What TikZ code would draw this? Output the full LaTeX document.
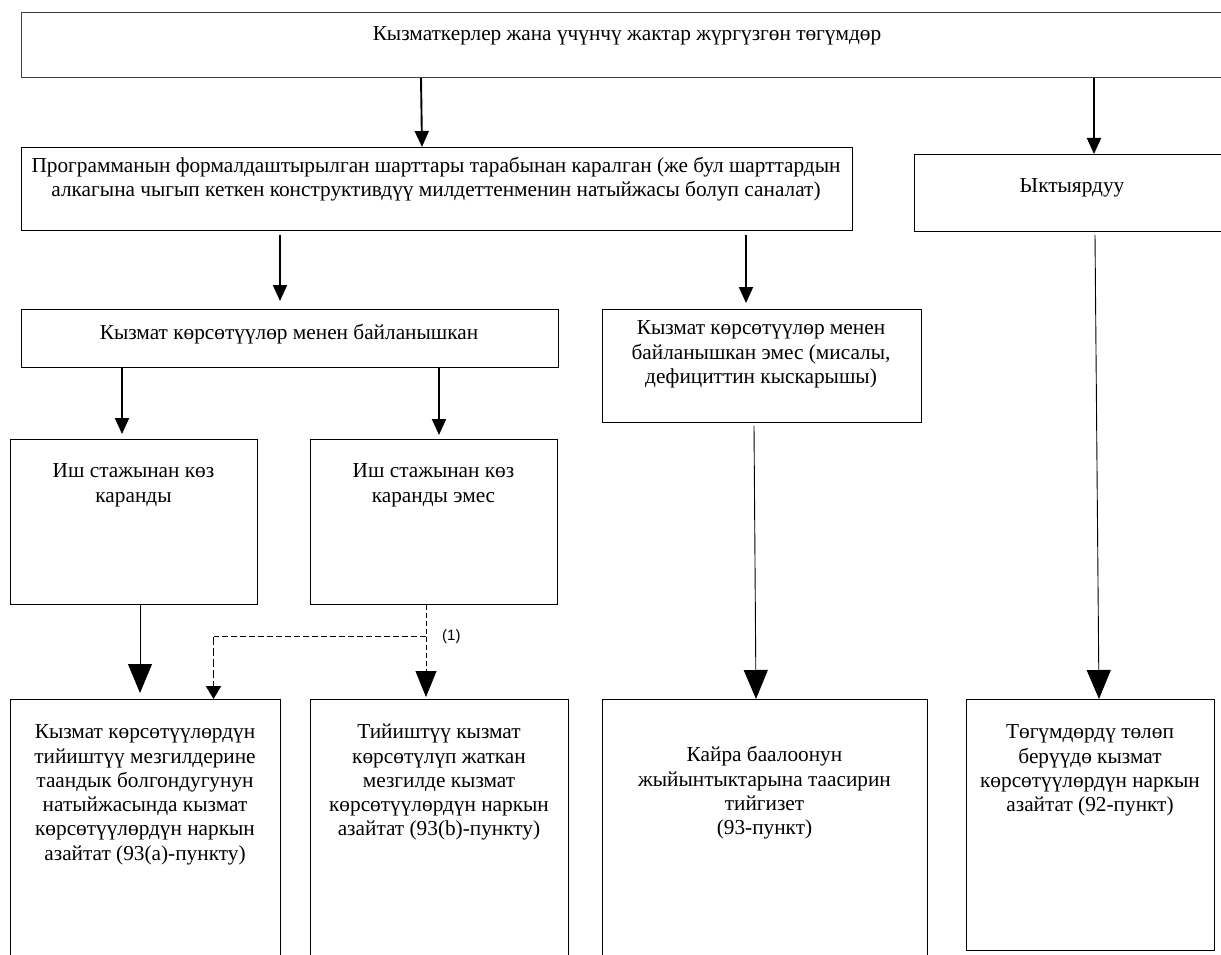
\documentclass[tikz,border=0pt]{standalone}
\usepackage{fontspec}
\setmainfont{Liberation Serif}
\newfontfamily\labfont{Liberation Sans}
\usetikzlibrary{arrows.meta,calc}
\begin{document}
\begin{tikzpicture}[x=1pt,y=-1pt,
  box/.style={draw=black, line width=0.8pt, inner sep=0pt, anchor=north west},
  txt/.style={align=center, inner sep=0pt, anchor=north, font=\fontsize{21.3}{24.3}\selectfont},
  thickarr/.style={line width=1.9pt, -{Triangle[width=14pt,length=16pt]}},
  bigarr/.style={line width=0.9pt, -{Triangle[width=24pt,length=29pt]}},
  thindash/.style={line width=0.8pt, dash pattern=on 5pt off 3pt, -{Triangle[width=21pt,length=26pt]}},
  meddash/.style={line width=1.1pt, dash pattern=on 6pt off 3pt},
  thickdash/.style={line width=1.9pt, dash pattern=on 8pt off 3pt, -{Triangle[width=15pt,length=13pt]}},
  lab/.style={inner sep=1pt, font=\labfont\fontsize{15}{17}\selectfont}
 ]
\useasboundingbox (0,0) rectangle (1221,955);
\fill[white] (0,0) rectangle (1221,955);

% boxes
\node[box, draw=black!75, line width=1pt, minimum width=1212pt, minimum height=65pt] (top) at (21,12) {};
\node[box, minimum width=831pt, minimum height=83pt] (P) at (20.6,147) {};
\node[box, minimum width=316pt, minimum height=77pt] (Y) at (914,154) {};
\node[box, minimum width=537pt, minimum height=58pt] (K) at (20.6,309) {};
\node[box, minimum width=319pt, minimum height=113pt] (E) at (602,309) {};
\node[box, minimum width=247pt, minimum height=165pt] (I1) at (10,439) {};
\node[box, minimum width=247pt, minimum height=165pt] (I2) at (310,439) {};
\node[box, minimum width=270pt, minimum height=300pt] (B1) at (10,699) {};
\node[box, minimum width=258pt, minimum height=300pt] (B2) at (310,699) {};
\node[box, minimum width=325pt, minimum height=300pt] (B3) at (602,699) {};
\node[box, minimum width=248pt, minimum height=251pt] (B4) at (966,699) {};

% texts
\node[txt] (ttop) at (627,23.5) {\strut Кызматкерлер жана үчүнчү жактар жүргүзгөн төгүмдөр};
\node[txt] (tP) at (436,155) {\strut Программанын формалдаштырылган шарттары тарабынан каралган (же бул шарттардын\\алкагына чыгып кеткен конструктивдүү милдеттенменин натыйжасы болуп саналат)};
\node[txt] (tY) at (1072,175) {\strut Ыктыярдуу};
\node[txt] (tK) at (289,322.5) {\strut Кызмат көрсөтүүлөр менен байланышкан};
\node[txt] (tE) at (761,317.5) {\strut Кызмат көрсөтүүлөр менен\\байланышкан эмес (мисалы,\\дефициттин кыскарышы)};
\node[txt] (tI1) at (133.5,460.5) {\strut Иш стажынан көз\\каранды};
\node[txt] (tI2) at (433.5,460.5) {\strut Иш стажынан көз\\каранды эмес};
\node[txt] (tB1) at (145,721.5) {\strut Кызмат көрсөтүүлөрдүн\\тийиштүү мезгилдерине\\таандык болгондугунун\\натыйжасында кызмат\\көрсөтүүлөрдүн наркын\\азайтат (93(а)-пункту)};
\node[txt] (tB2) at (439,721.5) {\strut Тийиштүү кызмат\\көрсөтүлүп жаткан\\мезгилде кызмат\\көрсөтүүлөрдүн наркын\\азайтат (93(b)-пункту)};
\node[txt] (tB3) at (764.5,744.5) {\strut Кайра баалоонун\\жыйынтыктарына таасирин\\тийгизет\\(93-пункт)};
\node[txt] (tB4) at (1090,721.5) {\strut Төгүмдөрдү төлөп\\берүүдө кызмат\\көрсөтүүлөрдүн наркын\\азайтат (92-пункт)};

% connectors
\draw[thickarr] ([xshift=400pt]top.south west) -- ([xshift=401.4pt]P.north west);
\draw[thickarr] ([xshift=1073pt]top.south west) -- ([xshift=180pt]Y.north west);
\draw[thickarr] ([xshift=259.4pt,yshift=-4pt]P.south west) -- ([xshift=259.4pt,yshift=8pt]K.north west);
\draw[thickarr] ([xshift=725.4pt,yshift=-4pt]P.south west) -- ([xshift=144pt,yshift=6pt]E.north west);
\draw[thickarr] ([xshift=101.4pt]K.south west) -- ([xshift=112pt,yshift=5pt]I1.north west);
\draw[thickarr] ([xshift=418.4pt]K.south west) -- ([xshift=129pt,yshift=4pt]I2.north west);
\draw[bigarr] ([xshift=130pt]I1.south west) -- ([xshift=130pt,yshift=6pt]B1.north west);
\draw[thindash] ([xshift=116pt]I2.south west) -- ([xshift=116pt,yshift=2pt]B2.north west);
\coordinate (br) at ([xshift=116pt,yshift=-32pt]I2.south west);
\coordinate (bt) at ([xshift=203.5pt]B1.north west);
\draw[meddash] (br) -- (br -| bt) coordinate (bc);
\draw[thickdash] (bc) -- (bt);
\draw[bigarr] ([xshift=152pt,yshift=-3pt]E.south west) -- ([xshift=154pt]B3.north west);
\draw[bigarr] ([xshift=181pt,yshift=-3pt]Y.south west) -- ([xshift=133pt]B4.north west);
\node[lab, anchor=west] (l1) at ([xshift=15pt]br) {(1)};
\end{tikzpicture}
\end{document}
